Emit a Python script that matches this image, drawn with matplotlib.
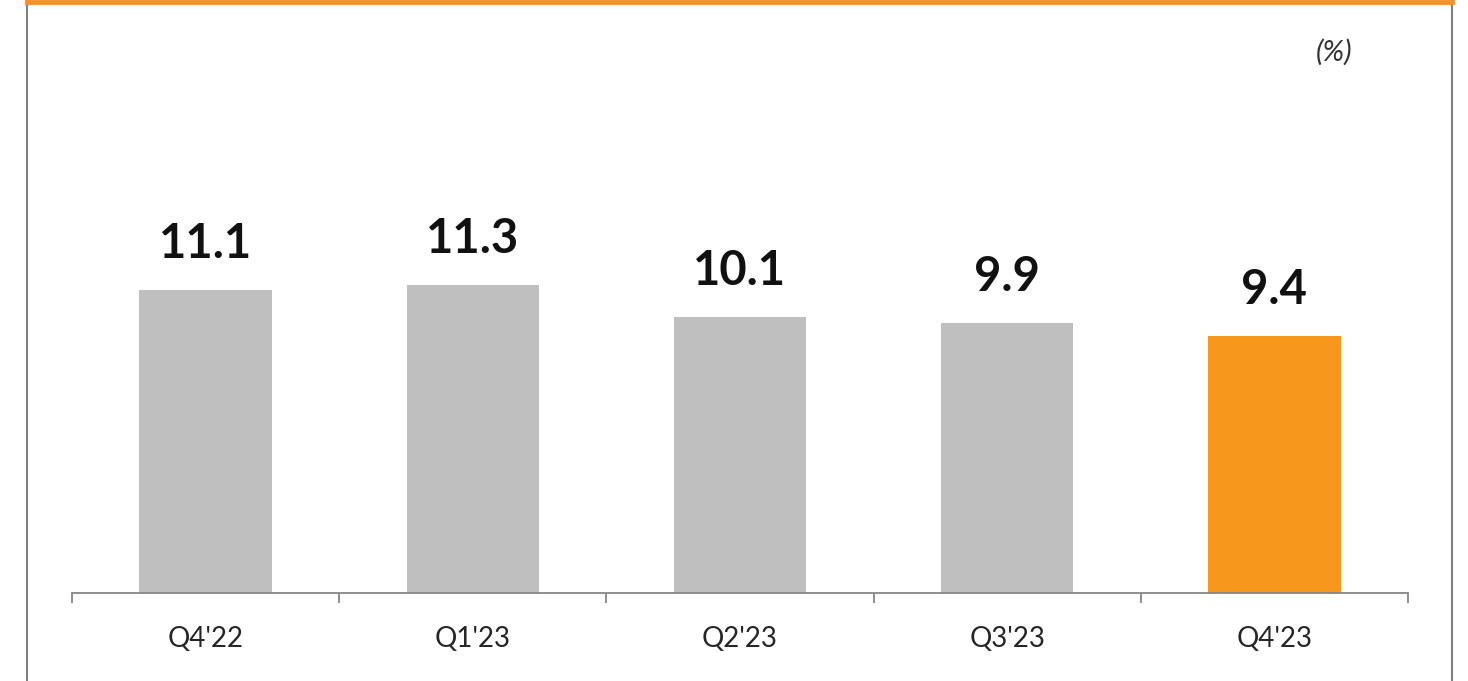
import matplotlib
matplotlib.use('Agg')
import matplotlib.pyplot as plt
from matplotlib.lines import Line2D

# Chart data
quarters = ["Q4'22", "Q1'23", "Q2'23", "Q3'23", "Q4'23"]
values = [11.1, 11.3, 10.1, 9.9, 9.4]
bar_colors = ["#BFBFBF", "#BFBFBF", "#BFBFBF", "#BFBFBF", "#F7981D"]
unit_label = "(%)"

plt.rcParams['font.family'] = ['Lato', 'DejaVu Sans']

fig = plt.figure(figsize=(14.68, 6.81), dpi=100)
fig.patch.set_facecolor("white")

# frame around the panel: grey sides, orange top
fig.add_artist(Line2D([27 / 1468, 27 / 1468], [0, 1], color="#7F7F7F", lw=1.5))
fig.add_artist(Line2D([1452 / 1468, 1452 / 1468], [0, 1], color="#7F7F7F", lw=1.5))
fig.add_artist(Line2D([27 / 1468, 1452 / 1468], [1 - 1.5 / 681, 1 - 1.5 / 681],
                      color="#F0922A", lw=3.5))

ax = fig.add_axes([72 / 1468, 88 / 681, 1336 / 1468, 491.4 / 681])
x = range(len(quarters))
ax.bar(x, values, width=0.495, color=bar_colors, zorder=2)

for i, v in zip(x, values):
    ax.annotate(f"{v:.1f}", (i, v), xytext=(0, 23), textcoords="offset points",
                ha="center", va="baseline", fontsize=34, fontweight="bold",
                color="#111111")

ax.set_xlim(-0.5, len(quarters) - 0.5)
ax.set_ylim(0, 18)

for side in ["top", "right", "left"]:
    ax.spines[side].set_visible(False)
ax.spines["bottom"].set_color("#878787")
ax.spines["bottom"].set_linewidth(1.3)
ax.set_yticks([])

# category boundaries as major ticks, labels centred via minor ticks
ax.set_xticks([i - 0.5 for i in range(len(quarters) + 1)])
ax.set_xticklabels([])
ax.tick_params(axis="x", which="major", length=7, width=1.3, color="#878787",
               direction="out")
ax.set_xticks(list(x), minor=True)
ax.set_xticklabels(quarters, minor=True, fontsize=20, color="#262626")
ax.tick_params(axis="x", which="minor", length=0, pad=24)

fig.text(1334 / 1468, 1 - 52 / 681, unit_label, ha="center", va="center",
         fontsize=21, style="italic", color="#333333")

plt.savefig("out.png", dpi=100)
plt.close()
